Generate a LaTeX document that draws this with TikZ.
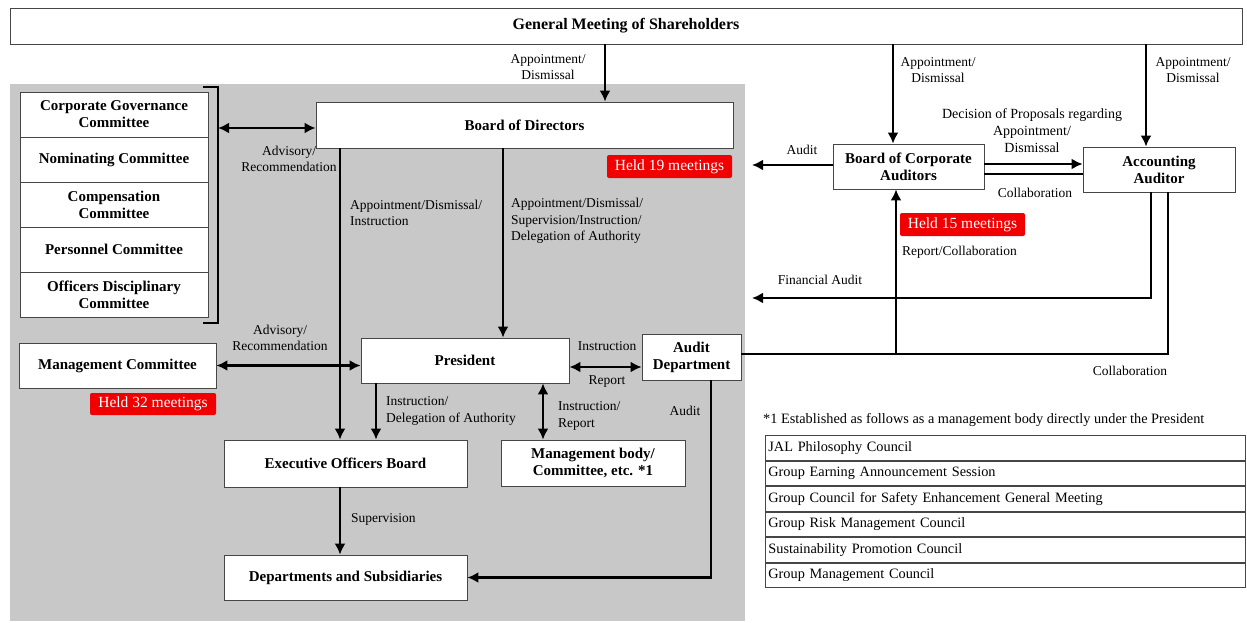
\documentclass[tikz,border=0pt]{standalone}
\usepackage{fontspec}
\setmainfont{Liberation Serif}
\usetikzlibrary{arrows.meta,calc}
\definecolor{bggray}{RGB}{200,200,200}
\definecolor{boxline}{RGB}{70,70,70}
\definecolor{tagred}{RGB}{240,0,0}
\begin{document}
\begin{tikzpicture}[x=1pt,y=-1pt,
  box/.style={draw=boxline,fill=white,line width=0.8pt,inner sep=0pt,align=center,
    font=\fontsize{15}{17}\selectfont\bfseries},
  tag/.style={fill=tagred,text=white,rounded corners=2pt,inner sep=0pt,
    minimum width=125pt,minimum height=23pt,font=\fontsize{15.5}{17}\selectfont},
  lab/.style={inner sep=0pt,align=center,font=\fontsize{13.5}{16.5}\selectfont},
  labl/.style={lab,align=left,anchor=west},
  conn/.style={line width=2.6pt},
  arr/.style={conn,-{Latex[length=11pt,width=11pt]}},
  arrb/.style={conn,{Latex[length=11pt,width=11pt]}-{Latex[length=11pt,width=11pt]}},
  trow/.style={draw=boxline,line width=0.8pt,anchor=north west,minimum width=480pt,
    minimum height=24.7pt,inner sep=3pt,text width=474pt,align=left,
    font=\fontsize{14.3}{16}\selectfont}
]
\useasboundingbox (0,0) rectangle (1247,623);
\fill[white] (0,0) rectangle (1247,623);
% gray background region
\fill[bggray] (10,84) rectangle (745,621);

% main nodes
\node[box,minimum width=1232pt,minimum height=36pt,font=\fontsize{16}{18}\selectfont\bfseries] (gms) at (626,26) {General Meeting of Shareholders};
\node[box,minimum width=417pt,minimum height=46pt] (bod) at (524.5,125) {Board of Directors};

\node[box,minimum width=188pt,minimum height=45pt] (cg) at (114,114.5) {Corporate Governance\\Committee};
\node[box,minimum width=188pt,minimum height=45pt] (nom) at (114,159.5) {Nominating Committee};
\node[box,minimum width=188pt,minimum height=45pt] (comp) at (114,204.5) {Compensation\\Committee};
\node[box,minimum width=188pt,minimum height=45pt] (pers) at (114,249.5) {Personnel Committee};
\node[box,minimum width=188pt,minimum height=45pt] (odc) at (114,294.5) {Officers Disciplinary\\Committee};

\node[box,minimum width=197pt,minimum height=45pt] (mc) at (117.5,365.5) {Management Committee};
\node[box,minimum width=208pt,minimum height=45pt] (pres) at (465,360.5) {President};
\node[box,minimum width=243pt,minimum height=47pt] (eob) at (345.5,463.5) {Executive Officers Board};
\node[box,minimum width=243pt,minimum height=45pt] (dep) at (345.5,577.5) {Departments and Subsidiaries};
\node[box,minimum width=184pt,minimum height=46pt] (mb) at (593,463) {Management body/\\Committee, etc. *1};
\node[box,minimum width=99pt,minimum height=46pt] (ad) at (691.5,357) {Audit\\Department};
\node[box,minimum width=151pt,minimum height=45pt] (boca) at (908.5,166.5) {Board of Corporate\\Auditors};
\node[box,minimum width=152pt,minimum height=45pt] (aa) at (1159,169.5) {Accounting\\Auditor};

% red tags
\node[tag] (h19) at (669.5,166.5) {Held 19 meetings};
\node[tag] (h15) at (962.5,224.5) {Held 15 meetings};
\node[tag,minimum width=126pt,minimum height=22pt] (h32) at (153,404) {Held 32 meetings};

% bracket
\draw[line width=1.6pt] (203,87) -- (218,87) -- (218,323) -- (203,323);

% helper coordinates
\coordinate (brk) at (218,128);
\coordinate (x340) at (340,0);
\coordinate (x376) at (376,0);
\coordinate (x503) at (503,0);
\coordinate (x543) at (543,0);
\coordinate (x605) at (605,0);
\coordinate (x711) at (711,0);
\coordinate (x893) at (893,0);
\coordinate (x1146) at (1146,0);
\coordinate (x1151) at (1151,0);
\coordinate (x1168) at (1168,0);
\coordinate (y164) at (0,164);
\coordinate (y174) at (0,174);
\coordinate (y354) at (0,354);
\coordinate (y367) at (0,367);
\coordinate (jn) at (896,354);
\coordinate (auditend) at (752,165);
\coordinate (faend) at (752,298);

% connectors
\draw[arr] (gms.south -| x605) -- (bod.north -| x605);
\draw[arrb] (brk) -- (bod.west |- brk);
\draw[arr] (bod.south -| x340) -- (eob.north -| x340);
\draw[arr] (bod.south -| x503) -- (pres.north -| x503);
\draw[arrb] (mc.east) -- (pres.west |- mc.east);
\draw[arr] (pres.south -| x376) -- (eob.north -| x376);
\draw[arrb] (pres.south -| x543) -- (mb.north -| x543);
\draw[arrb] (pres.east |- y367) -- (ad.west |- y367);
\draw[arr] (eob.south -| x340) -- (dep.north -| x340);
\draw[arr] (ad.south -| x711) |- (dep.east);
\draw[line width=1.6pt] (ad.east |- y354) -| (aa.south -| x1168);
\draw[arr] (jn) -- (boca.south -| jn);
\draw[arr] (gms.south -| x893) -- (boca.north -| x893);
\draw[arr] (gms.south -| x1146) -- (aa.north -| x1146);
\draw[arr] (boca.east |- y164) -- (aa.west |- y164);
\draw[line width=1.6pt] (boca.east |- y174) -- (aa.west |- y174);
\draw[arr] (boca.west |- auditend) -- (auditend);
\draw[arr] (aa.south -| x1151) |- (faend);

% labels
\node[lab] (l1) at (548,67) {Appointment/\\Dismissal};
\node[lab] (l2) at (289,159) {Advisory/\\Recommendation};
\node[labl] (l3) at (350,213) {Appointment/Dismissal/\\Instruction};
\node[labl] (l4) at (511,221) {Appointment/Dismissal/\\Supervision/Instruction/\\Delegation of Authority};
\node[lab] (l5) at (280,338) {Advisory/\\Recommendation};
\node[labl] (l6) at (386,411) {Instruction/\\Delegation of Authority};
\node[labl] (l7) at (558,416) {Instruction/\\Report};
\node[lab] (l8) at (607,346) {Instruction};
\node[lab] (l9) at (607,382) {Report};
\node[lab] (l10) at (685,411) {Audit};
\node[labl] (l11) at (351,519) {Supervision};
\node[lab] (l12) at (938,70) {Appointment/\\Dismissal};
\node[lab] (l13) at (1193,70) {Appointment/\\Dismissal};
\node[lab,font=\fontsize{14}{17}\selectfont] (l14) at (1032,131) {Decision of Proposals regarding\\Appointment/\\Dismissal};
\node[lab] (l15) at (802,150) {Audit};
\node[lab] (l16) at (1035,193) {Collaboration};
\node[labl] (l17) at (902,252) {Report/Collaboration};
\node[lab] (l18) at (820,280) {Financial Audit};
\node[lab] (l19) at (1130,371) {Collaboration};

% footnote and table
\node[labl,font=\fontsize{14.3}{16}\selectfont] (fn) at (763,420) {*1 Established as follows as a management body directly under the President};
\node[trow] (t1) at (765,435) {JAL Philosophy Council};
\node[trow] (t2) at (t1.south west) {Group Earning Announcement Session};
\node[trow] (t3) at (t2.south west) {Group Council for Safety Enhancement General Meeting};
\node[trow] (t4) at (t3.south west) {Group Risk Management Council};
\node[trow] (t5) at (t4.south west) {Sustainability Promotion Council};
\node[trow] (t6) at (t5.south west) {Group Management Council};
\end{tikzpicture}
\end{document}
